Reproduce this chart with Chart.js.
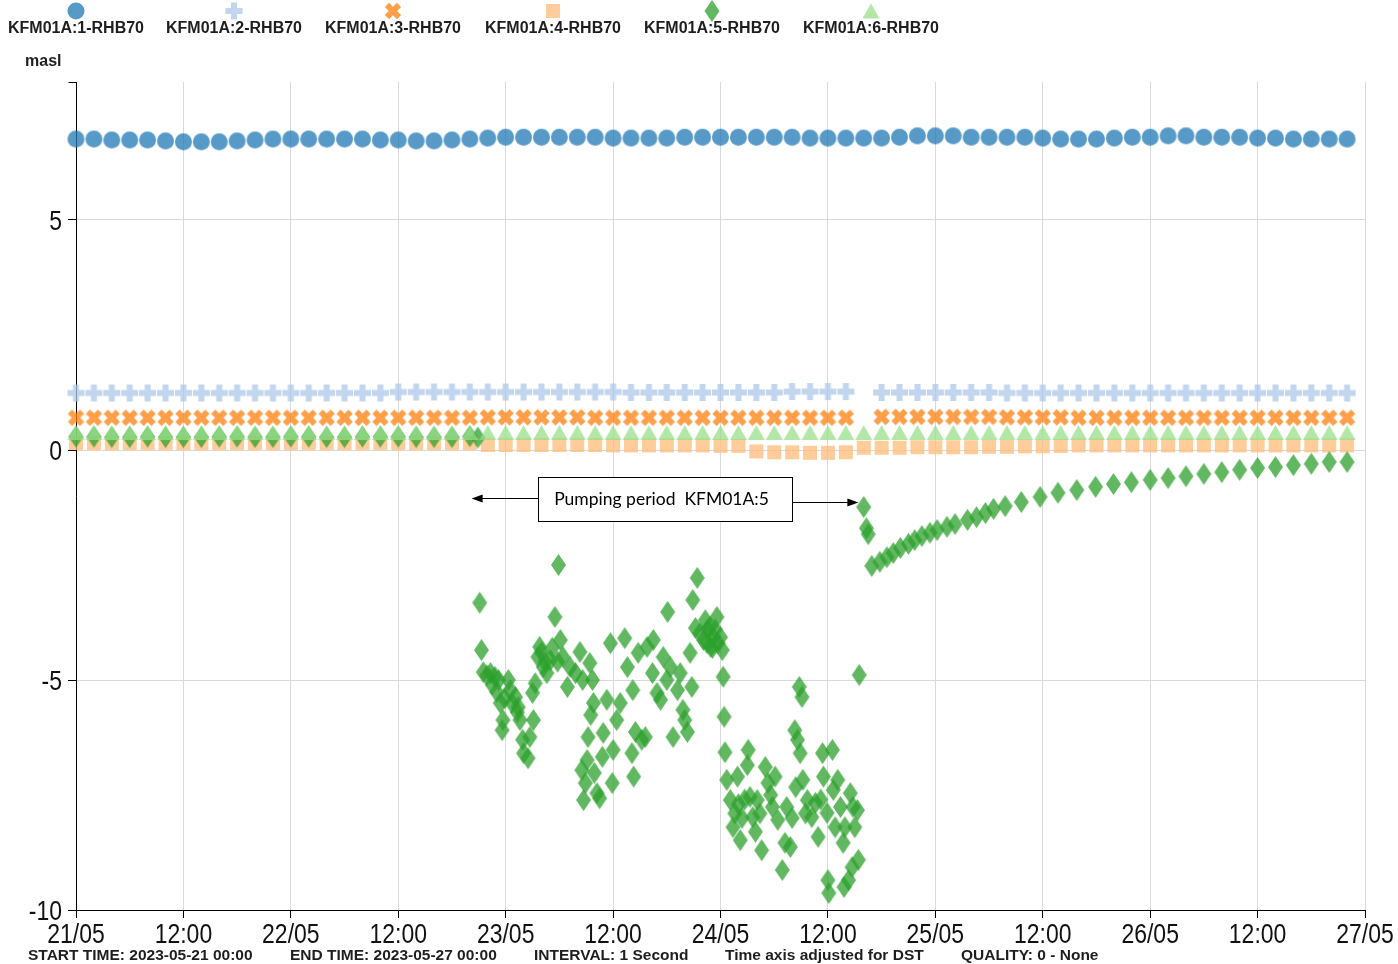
<!DOCTYPE html>
<html>
<head>
<meta charset="utf-8">
<title>KFM01A groundwater levels</title>
<script src="https://cdn.jsdelivr.net/npm/chart.js@4.4.1/dist/chart.umd.min.js"></script>
<style>
  html, body { margin: 0; padding: 0; background: #fff; width: 1398px; height: 964px; overflow: hidden; }
  #wrap { position: relative; width: 1398px; height: 964px; }
  #chart { position: absolute; left: 0; top: 0; }
  .legend-item { position: absolute; top: 0; width: 160px; height: 40px; text-align: center;
    font: bold 16px "Liberation Sans", Arial, sans-serif; color: #1e1e1e; }
  .legend-item canvas { position: absolute; left: 62px; top: -1px; }
  .legend-item span { position: absolute; left: 0; right: 0; top: 19px; line-height: 18px; white-space: nowrap; }
  .foot { position: absolute; top: 946px; font: bold 15.5px "Liberation Sans", Arial, sans-serif;
    line-height: 18px; color: #1e1e1e; white-space: nowrap; }
  #unit { position: absolute; left: 25px; top: 52px; font: bold 16px "Liberation Sans", Arial, sans-serif;
    line-height: 18px; color: #1e1e1e; }
</style>
</head>
<body>
<div id="wrap">
  <canvas id="chart" width="1398" height="964"></canvas>
  <div id="legend"></div>
  <div id="unit">masl</div>
  <div id="footer"></div>
</div>
<script>
// ---- Series names and axis labels ----
const seriesNames = ['KFM01A:1-RHB70', 'KFM01A:2-RHB70', 'KFM01A:3-RHB70',
                     'KFM01A:4-RHB70', 'KFM01A:5-RHB70', 'KFM01A:6-RHB70'];
const xTickLabels = ['21/05', '12:00', '22/05', '12:00', '23/05', '12:00', '24/05',
                     '12:00', '25/05', '12:00', '26/05', '12:00', '27/05'];
const yTickValues = [-10, -5, 0, 5];
const footerItems = ['START TIME: 2023-05-21 00:00', 'END TIME: 2023-05-27 00:00',
                     'INTERVAL: 1 Second', 'Time axis adjusted for DST', 'QUALITY: 0 - None'];

// ---- Two-hourly readings, hours after 2023-05-21 00:00 ----
const timeHours = [0, 2, 4, 6, 8, 10, 12, 14, 16, 18, 20, 22, 24, 26, 28, 30, 32, 34, 36, 38, 40, 42, 44, 46,
  48, 50, 52, 54, 56, 58, 60, 62, 64, 66, 68, 70, 72, 74, 76, 78, 80, 82, 84, 86, 88, 90, 92, 94,
  96, 98, 100, 102, 104, 106, 108, 110, 112, 114, 116, 118, 120, 122, 124, 126, 128, 130, 132, 134, 136, 138, 140, 142];

// KFM01A:1 (masl)
const kfm1 = [6.76, 6.76, 6.74, 6.74, 6.74, 6.72, 6.70, 6.70, 6.70, 6.72, 6.74, 6.76, 6.76, 6.76, 6.76, 6.76,
  6.76, 6.74, 6.74, 6.72, 6.72, 6.74, 6.76, 6.78, 6.80, 6.80, 6.80, 6.80, 6.80, 6.80, 6.78, 6.78,
  6.78, 6.78, 6.80, 6.80, 6.80, 6.80, 6.80, 6.80, 6.80, 6.78, 6.78, 6.78, 6.78, 6.78, 6.80, 6.83,
  6.83, 6.83, 6.80, 6.80, 6.80, 6.80, 6.78, 6.76, 6.76, 6.76, 6.78, 6.80, 6.80, 6.83, 6.83, 6.80,
  6.80, 6.80, 6.78, 6.78, 6.76, 6.76, 6.76, 6.76];
// KFM01A:2 (masl), no reading at 24/05 16:00
const kfm2 = [1.24, 1.24, 1.24, 1.24, 1.24, 1.24, 1.24, 1.24, 1.24, 1.24, 1.24, 1.24, 1.24, 1.24, 1.24, 1.24,
  1.24, 1.24, 1.26, 1.26, 1.26, 1.26, 1.26, 1.26, 1.26, 1.26, 1.26, 1.26, 1.26, 1.26, 1.26, 1.25,
  1.25, 1.25, 1.25, 1.25, 1.25, 1.25, 1.25, 1.25, 1.27, 1.27, 1.27, 1.27, null, 1.25, 1.25, 1.25,
  1.25, 1.25, 1.25, 1.25, 1.24, 1.24, 1.24, 1.24, 1.24, 1.24, 1.24, 1.24, 1.24, 1.24, 1.24, 1.24,
  1.24, 1.24, 1.24, 1.24, 1.24, 1.24, 1.24, 1.24];
// KFM01A:3 (masl), no reading at 24/05 16:00
const kfm3 = [0.70, 0.70, 0.70, 0.70, 0.70, 0.70, 0.70, 0.70, 0.70, 0.70, 0.70, 0.70, 0.70, 0.70, 0.70, 0.70,
  0.70, 0.70, 0.70, 0.70, 0.70, 0.70, 0.70, 0.71, 0.71, 0.71, 0.71, 0.71, 0.71, 0.70, 0.70, 0.70,
  0.70, 0.70, 0.70, 0.70, 0.70, 0.70, 0.70, 0.70, 0.70, 0.70, 0.70, 0.70, null, 0.72, 0.72, 0.72,
  0.72, 0.72, 0.72, 0.72, 0.71, 0.71, 0.71, 0.71, 0.70, 0.70, 0.70, 0.70, 0.70, 0.70, 0.70, 0.70,
  0.70, 0.70, 0.70, 0.70, 0.70, 0.70, 0.70, 0.70];
// KFM01A:4 (masl)
const kfm4 = [0.15, 0.15, 0.15, 0.15, 0.15, 0.15, 0.15, 0.15, 0.15, 0.15, 0.15, 0.15, 0.15, 0.15, 0.15, 0.15,
  0.15, 0.15, 0.15, 0.15, 0.15, 0.15, 0.15, 0.11, 0.11, 0.11, 0.11, 0.11, 0.11, 0.11, 0.10, 0.10,
  0.10, 0.10, 0.10, 0.10, 0.09, 0.09, -0.03, -0.05, -0.05, -0.06, -0.06, -0.05, 0.05, 0.05, 0.05, 0.06,
  0.06, 0.06, 0.06, 0.07, 0.07, 0.08, 0.08, 0.09, 0.10, 0.10, 0.10, 0.10, 0.10, 0.10, 0.10, 0.10,
  0.10, 0.10, 0.10, 0.10, 0.10, 0.10, 0.10, 0.10];
// KFM01A:6 (masl)
const kfm6 = [0.38, 0.38, 0.38, 0.38, 0.38, 0.38, 0.38, 0.38, 0.38, 0.38, 0.38, 0.38, 0.38, 0.38, 0.38, 0.38,
  0.38, 0.38, 0.38, 0.38, 0.38, 0.38, 0.38, 0.38, 0.38, 0.38, 0.38, 0.38, 0.38, 0.38, 0.38, 0.38,
  0.38, 0.38, 0.38, 0.38, 0.38, 0.38, 0.38, 0.38, 0.38, 0.38, 0.38, 0.38, 0.38, 0.38, 0.38, 0.38,
  0.38, 0.38, 0.38, 0.38, 0.38, 0.38, 0.38, 0.38, 0.38, 0.38, 0.38, 0.38, 0.38, 0.38, 0.38, 0.38,
  0.38, 0.38, 0.38, 0.38, 0.38, 0.38, 0.38, 0.38];

// ---- KFM01A:5, the pumped section: irregular logging (hours, masl) ----
const kfm5BeforeHours = [0, 2, 4, 6, 8, 10, 12, 14, 16, 18, 20, 22, 24, 26, 28, 30, 32, 34, 36, 38, 40, 42, 44, 44.9];
const kfm5BeforeMasl = [0.29, 0.29, 0.28, 0.28, 0.29, 0.28, 0.28, 0.28, 0.29, 0.29, 0.28, 0.28, 0.29, 0.29,
  0.28, 0.28, 0.29, 0.29, 0.29, 0.28, 0.28, 0.28, 0.30, 0.27];

const kfm5PumpHours = [45.1, 45.3, 45.5, 45.9, 46.3, 46.5, 46.8, 47.0, 47.2, 47.4, 47.6, 47.7, 47.9, 48.3, 48.5,
  48.7, 49.1, 49.3, 49.4, 49.6, 49.9, 50.0, 50.5, 50.7, 51.0, 51.1, 51.3, 51.6, 51.8, 52.0, 52.2, 52.4, 52.6,
  53.0, 53.2, 53.5, 53.8, 53.9, 54.1, 54.4, 54.9, 55.2, 55.8, 56.3, 56.5, 56.6, 56.7, 56.9, 57.1, 57.2, 57.4,
  57.5, 57.7, 57.8, 57.9, 58.2, 58.5, 58.8, 58.9, 59.3, 59.7, 59.9, 60.0, 60.4, 60.8, 61.3, 61.6, 62.1, 62.2,
  62.3, 62.5, 62.8, 63.2, 63.6, 63.8, 64.4, 64.5, 64.9, 65.3, 65.6, 66.0, 66.1, 66.4, 66.7, 67.2, 67.5, 67.8,
  68.0, 68.3, 68.6, 68.8, 68.9, 69.2, 69.4, 69.7, 70.1, 70.3, 70.5, 70.6, 70.8, 70.9, 71.1, 71.2, 71.4, 71.6,
  71.7, 72.0, 72.2, 72.3, 72.4, 72.5, 72.7, 73.1, 73.4, 73.6, 73.9, 74.0, 74.2, 74.4, 74.7, 75.0, 75.1, 75.3,
  75.6, 75.9, 76.1, 76.4, 76.6, 77.0, 77.3, 77.6, 77.8, 78.1, 78.4, 78.9, 79.2, 79.4, 79.8, 80.0, 80.3, 80.4,
  80.6, 80.8, 80.9, 81.1, 81.2, 81.5, 81.7, 82.2, 82.6, 82.9, 83.2, 83.4, 83.5, 83.9, 84.0, 84.1, 84.5, 84.6,
  84.8, 85.1, 85.4, 85.7, 85.8, 85.9, 86.3, 86.5, 86.7, 86.8, 87.0, 87.3, 87.4, 87.5];
const kfm5PumpMasl = [-3.32, -4.35, -4.83, -4.90, -4.85, -5.10, -4.93, -5.26, -5.00, -5.50, -6.09, -5.87, -5.40, -5.00, -5.22,
  -5.50, -5.37, -5.70, -5.59, -5.87, -6.30, -6.59, -6.70, -6.24, -5.28, -5.87, -5.07, -4.50, -4.28, -4.40, -4.72, -4.60, -4.85,
  -4.57, -4.30, -3.63, -4.60, -2.50, -4.13, -4.50, -5.15, -4.72, -4.85, -4.39, -6.96, -5.00, -7.61, -7.24, -6.74, -6.24, -4.63,
  -5.76, -5.00, -5.50, -7.02, -7.46, -7.57, -6.67, -6.15, -5.43, -4.20, -7.24, -6.52, -5.87, -5.50, -4.09, -4.72, -6.59, -5.22,
  -7.10, -6.13, -4.41, -6.30, -6.24, -4.28, -4.85, -4.13, -5.28, -5.43, -4.50, -5.00, -3.52, -4.72, -6.24, -5.22, -4.85, -5.65,
  -5.87, -6.13, -4.41, -5.15, -3.26, -3.87, -2.78, -3.98, -4.13, -3.70, -4.20, -3.90, -3.85, -4.28, -4.30, -4.07, -3.90, -3.63,
  -4.20, -4.07, -4.35, -4.93, -5.80, -6.57, -7.17, -7.61, -8.20, -7.90, -7.10, -7.70, -8.48, -8.00, -7.60, -6.85, -6.52, -7.54,
  -7.98, -8.30, -7.61, -7.90, -8.70, -6.89, -7.24, -7.50, -7.76, -7.10, -8.04, -9.13, -8.54, -7.76, -8.63, -8.00, -6.09, -7.33,
  -6.30, -5.15, -6.59, -5.37, -7.17, -7.90, -7.61, -7.98, -7.67, -8.41, -7.60, -6.59, -7.10, -7.89, -9.35, -9.63, -6.52, -7.39,
  -8.20, -7.17, -7.76, -8.54, -9.50, -8.20, -9.35, -7.46, -9.07, -7.76, -8.20, -7.83, -8.91, -4.89];

const kfm5RecoveryHours = [88.0, 88.3, 88.5, 88.9, 89.8, 90.6, 91.3, 92.1, 93.0, 93.7, 94.5, 95.4, 96.2, 97.3, 98.2,
  99.6, 100.6, 101.6, 102.5, 103.8, 105.6, 107.7, 109.7, 111.8, 113.9, 115.9, 117.9, 120.0, 122.0, 124.0, 126.0,
  128.0, 130.0, 132.0, 134.0, 136.0, 138.0, 140.0, 142.0];
const kfm5RecoveryMasl = [-1.24, -1.70, -1.83, -2.52, -2.43, -2.33, -2.24, -2.13, -2.04, -1.96, -1.87, -1.80, -1.74,
  -1.67, -1.61, -1.52, -1.46, -1.37, -1.28, -1.22, -1.13, -1.02, -0.93, -0.87, -0.80, -0.74, -0.70, -0.65, -0.61,
  -0.57, -0.52, -0.48, -0.43, -0.39, -0.37, -0.33, -0.30, -0.26, -0.26];

// ---- Pumping period note (data units: hours / masl) ----
const noteText = 'Pumping period  KFM01A:5';
const noteBox = { fromHour: 51.6, toHour: 80.0, top: -0.59, bottom: -1.54 };
const noteArrowLeft = { tipHour: 44.2, level: -1.04 };
const noteArrowRight = { tipHour: 87.4, level: -1.13 };

// ---- Marker symbols ----
const palette = ['#1f77b4', '#aec7e8', '#ff7f0e', '#ffbb78', '#2ca02c', '#98df8a'];
const symbols = ['circle', 'plus', 'cross', 'square', 'diamond', 'triangle'];
const symbolBox = { circle: [19, 19], plus: [19, 19], cross: [19, 19], square: [16, 16], diamond: [17, 24], triangle: [19, 17] };

function plusPath(ctx, cx, cy, rot) {
  const a = 8.5, t = 3;
  const pts = [[-t, -a], [t, -a], [t, -t], [a, -t], [a, t], [t, t], [t, a], [-t, a], [-t, t], [-a, t], [-a, -t], [-t, -t]];
  const c = Math.cos(rot), s = Math.sin(rot);
  pts.forEach(([px, py], i) => {
    const X = cx + px * c - py * s, Y = cy + px * s + py * c;
    if (i === 0) ctx.moveTo(X, Y); else ctx.lineTo(X, Y);
  });
  ctx.closePath();
}

function drawSymbol(ctx, kind, cx, cy, color) {
  ctx.save();
  ctx.globalAlpha = 0.75;
  ctx.fillStyle = color;
  ctx.beginPath();
  switch (kind) {
    case 'circle': ctx.arc(cx, cy, 8.5, 0, Math.PI * 2); break;
    case 'plus': plusPath(ctx, cx, cy, 0); break;
    case 'cross': plusPath(ctx, cx, cy, Math.PI / 4); break;
    case 'square': ctx.rect(cx - 7, cy - 7, 14, 14); break;
    case 'diamond':
      ctx.moveTo(cx, cy - 11); ctx.lineTo(cx + 7.5, cy); ctx.lineTo(cx, cy + 11); ctx.lineTo(cx - 7.5, cy);
      ctx.closePath(); break;
    case 'triangle':
      ctx.moveTo(cx, cy - 7.5); ctx.lineTo(cx + 8.5, cy + 7.5); ctx.lineTo(cx - 8.5, cy + 7.5);
      ctx.closePath(); break;
  }
  ctx.fill();
  ctx.restore();
}

function makeMarker(i) {
  const kind = symbols[i];
  const [w, h] = symbolBox[kind];
  const c = document.createElement('canvas');
  c.width = w; c.height = h;
  drawSymbol(c.getContext('2d'), kind, w / 2, h / 2, palette[i]);
  return c;
}
const markers = symbols.map((_, i) => makeMarker(i));

// ---- Legend, unit label and footer ----
const legendCentres = [76, 234, 393, 553, 712, 871];
const legendEl = document.getElementById('legend');
seriesNames.forEach((name, i) => {
  const item = document.createElement('div');
  item.className = 'legend-item';
  item.style.left = (legendCentres[i] - 80) + 'px';
  const sym = document.createElement('canvas');
  sym.width = 36; sym.height = 24;
  drawSymbol(sym.getContext('2d'), symbols[i], 18, 12, palette[i]);
  const label = document.createElement('span');
  label.textContent = name;
  item.appendChild(sym);
  item.appendChild(label);
  legendEl.appendChild(item);
});
const footerLefts = [28, 290, 534, 725, 961];
const footerEl = document.getElementById('footer');
footerItems.forEach((t, i) => {
  const s = document.createElement('div');
  s.className = 'foot';
  s.style.left = footerLefts[i] + 'px';
  s.textContent = t;
  footerEl.appendChild(s);
});

// ---- Datasets ----
function pairs(xs, ys) { return xs.map((x, i) => ({ x: x, y: ys[i] })); }
const kfm5Points = pairs(kfm5BeforeHours, kfm5BeforeMasl)
  .concat(pairs(kfm5PumpHours, kfm5PumpMasl))
  .concat(pairs(kfm5RecoveryHours, kfm5RecoveryMasl));
const seriesPoints = [
  pairs(timeHours, kfm1), pairs(timeHours, kfm2), pairs(timeHours, kfm3),
  pairs(timeHours, kfm4), kfm5Points, pairs(timeHours, kfm6)
];
const datasets = seriesNames.map((name, i) => ({
  label: name,
  data: seriesPoints[i],
  pointStyle: markers[i],
  pointRadius: 8,
  pointHoverRadius: 8,
  showLine: false,
  clip: false,
  order: 6 - i
}));

// Narrow tick labels: drawn from each scale's own ticks, compressed horizontally
const tickLabelStyle = { family: '"Liberation Sans", Arial, sans-serif', size: 28, squeeze: 0.82, color: '#111' };
const narrowTickLabels = {
  id: 'narrowTickLabels',
  afterDraw(chart) {
    const ctx = chart.ctx, xs = chart.scales.x, ys = chart.scales.y;
    ctx.save();
    ctx.fillStyle = tickLabelStyle.color;
    ctx.font = tickLabelStyle.size + 'px ' + tickLabelStyle.family;
    ctx.textBaseline = 'alphabetic';
    ctx.textAlign = 'center';
    xs.ticks.forEach((t, i) => {
      ctx.save();
      ctx.translate(xs.getPixelForValue(t.value), xs.top + 33);
      ctx.scale(tickLabelStyle.squeeze, 1);
      ctx.fillText(xTickLabels[i], 0, 0);
      ctx.restore();
    });
    ctx.textAlign = 'right';
    ys.ticks.forEach(t => {
      ctx.save();
      ctx.translate(ys.right - 14, ys.getPixelForValue(t.value) + 10);
      ctx.scale(tickLabelStyle.squeeze, 1);
      ctx.fillText(String(t.value), 0, 0);
      ctx.restore();
    });
    ctx.restore();
  }
};

// Annotation box with arrows for the pumping period
const pumpingNote = {
  id: 'pumpingNote',
  afterDatasetsDraw(chart) {
    const ctx = chart.ctx, xs = chart.scales.x, ys = chart.scales.y;
    const x0 = Math.round(xs.getPixelForValue(noteBox.fromHour)) + 0.5;
    const x1 = Math.round(xs.getPixelForValue(noteBox.toHour)) + 0.5;
    const y0 = Math.round(ys.getPixelForValue(noteBox.top)) + 0.5;
    const y1 = Math.round(ys.getPixelForValue(noteBox.bottom)) + 0.5;
    ctx.save();
    ctx.fillStyle = '#fff';
    ctx.fillRect(x0, y0, x1 - x0, y1 - y0);
    ctx.strokeStyle = '#000';
    ctx.lineWidth = 1;
    ctx.strokeRect(x0, y0, x1 - x0, y1 - y0);
    ctx.fillStyle = '#000';
    ctx.font = '17.5px Lato, "Open Sans", sans-serif';
    ctx.textAlign = 'center';
    ctx.textBaseline = 'middle';
    ctx.fillText(noteText, (x0 + x1) / 2 - 4, (y0 + y1) / 2);

    function arrow(fromX, tipX, y) {
      const dir = Math.sign(tipX - fromX);
      ctx.beginPath();
      ctx.moveTo(fromX, y);
      ctx.lineTo(tipX - dir * 8, y);
      ctx.stroke();
      ctx.beginPath();
      ctx.moveTo(tipX, y);
      ctx.lineTo(tipX - dir * 11, y - 4);
      ctx.lineTo(tipX - dir * 11, y + 4);
      ctx.closePath();
      ctx.fill();
    }
    const ly = Math.round(ys.getPixelForValue(noteArrowLeft.level)) + 0.5;
    const ry = Math.round(ys.getPixelForValue(noteArrowRight.level)) + 0.5;
    arrow(x0, xs.getPixelForValue(noteArrowLeft.tipHour), ly);
    arrow(x1, xs.getPixelForValue(noteArrowRight.tipHour), ry);

    // outer tick at the top of the value axis
    const ax = Math.round(xs.left) + 0.5;
    ctx.beginPath();
    ctx.moveTo(ax - 8, Math.round(chart.chartArea.top) + 0.5);
    ctx.lineTo(ax, Math.round(chart.chartArea.top) + 0.5);
    ctx.stroke();
    ctx.restore();
  }
};

new Chart(document.getElementById('chart'), {
  type: 'scatter',
  data: { datasets: datasets },
  options: {
    responsive: false,
    animation: false,
    events: [],
    layout: { padding: { top: 82, right: 33, left: 0, bottom: 0 } },
    plugins: { legend: { display: false }, tooltip: { enabled: false }, title: { display: false } },
    scales: {
      x: {
        type: 'linear',
        min: 0,
        max: 144,
        afterFit(scale) { scale.height = 54; },
        afterBuildTicks(scale) { scale.ticks = xTickLabels.map((_, i) => ({ value: i * 12 })); },
        ticks: { display: false },
        grid: { color: '#d9d9d9', lineWidth: 1, tickColor: '#000', tickLength: 8 },
        border: { color: '#000', width: 1 }
      },
      y: {
        min: -10,
        max: 8,
        afterFit(scale) { scale.width = 76; },
        afterBuildTicks(scale) { scale.ticks = yTickValues.map(v => ({ value: v })); },
        ticks: { display: false },
        grid: { color: '#d9d9d9', lineWidth: 1, tickColor: '#000', tickLength: 8 },
        border: { color: '#000', width: 1 }
      }
    }
  },
  plugins: [pumpingNote, narrowTickLabels]
});
</script>
</body>
</html>
